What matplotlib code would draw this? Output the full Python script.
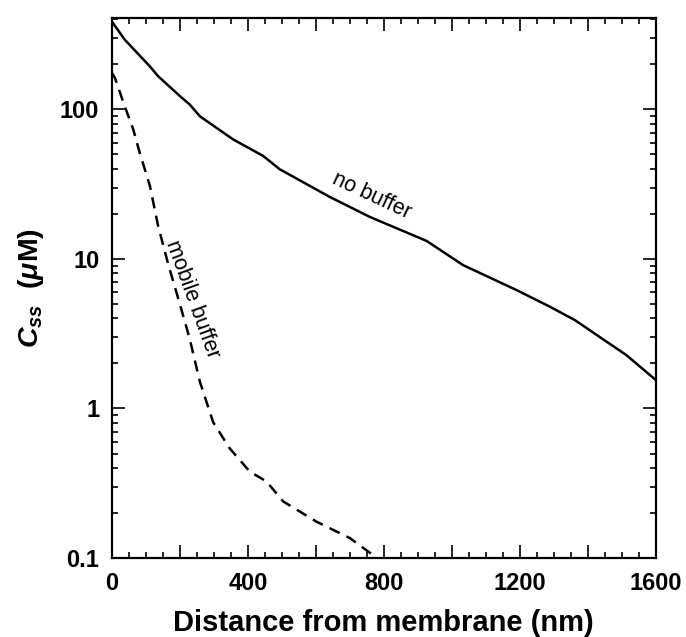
import matplotlib
matplotlib.use("Agg")
import matplotlib.pyplot as plt
from matplotlib.ticker import MultipleLocator, LogLocator, NullFormatter, FixedLocator, FixedFormatter

plt.rcParams['font.family'] = ['Liberation Sans', 'DejaVu Sans']
plt.rcParams['mathtext.fontset'] = 'custom'
plt.rcParams['mathtext.rm'] = 'Liberation Sans:bold'
plt.rcParams['mathtext.it'] = 'Liberation Sans:italic:bold'
plt.rcParams['mathtext.bf'] = 'Liberation Sans:bold'

# Data (distance in nm, concentration in uM)
no_buffer_x = [0, 38, 112, 136, 200, 229, 259, 357, 445, 494, 641, 759, 926, 1033, 1190, 1288, 1362, 1514, 1600]
no_buffer_y = [388, 293, 194, 167, 123, 108, 90, 63, 48.9, 39.8, 26.0, 19.1, 13.2, 9.1, 6.2, 4.8, 3.9, 2.27, 1.55]

mobile_x = [0, 9, 38, 63, 82, 112, 136, 166, 200, 229, 259, 298, 347, 406, 455, 504, 602, 700, 780]
mobile_y = [176, 163, 105, 73.6, 51.4, 30.8, 16.7, 9.2, 5.0, 2.93, 1.51, 0.81, 0.54, 0.378, 0.325, 0.239, 0.175, 0.136, 0.1]

x_ticks = [0, 400, 800, 1200, 1600]
x_ticklabels = ['0', '400', '800', '1200', '1600']
y_ticks = [0.1, 1, 10, 100]
y_ticklabels = ['0.1', '1', '10', '100']

fig = plt.figure(figsize=(6.86, 6.37), dpi=100)
ax = fig.add_axes([0.163, 0.124, 0.793, 0.848])

ax.plot(no_buffer_x, no_buffer_y, color='black', lw=1.8, solid_joinstyle='round')
ax.plot(mobile_x, mobile_y, color='black', lw=1.8, linestyle=(0, (4.5, 3)))

ax.set_yscale('log')
ax.set_xlim(0, 1600)
ax.set_ylim(0.1, 410)

major_x = list(range(0, 1601, 200))
ax.set_xticks(major_x)
ax.set_xticklabels([x_ticklabels[x_ticks.index(t)] if t in x_ticks else '' for t in major_x])
ax.xaxis.set_minor_locator(MultipleLocator(50))
ax.yaxis.set_major_locator(FixedLocator(y_ticks))
ax.yaxis.set_major_formatter(FixedFormatter(y_ticklabels))
ax.yaxis.set_minor_locator(LogLocator(base=10, subs=range(2, 10)))
ax.yaxis.set_minor_formatter(NullFormatter())

ax.tick_params(which='both', direction='in', top=True, right=True, width=1.2)
ax.tick_params(which='major', length=9.5)
ax.tick_params(which='minor', length=4.5)
ax.tick_params(axis='x', which='major', pad=10)
ax.tick_params(axis='y', which='major', pad=9)
for lbl in ax.get_xticklabels() + ax.get_yticklabels():
    lbl.set_fontsize(17)
    lbl.set_fontweight('bold')

for s in ax.spines.values():
    s.set_linewidth(1.6)

ax.set_xlabel('Distance from membrane (nm)', fontsize=21, fontweight='bold', labelpad=10)
ax.set_ylabel(r'$C_{ss}$  ($\mu$M)', fontsize=20.5, fontweight='bold', labelpad=10)

ax.text(765, 26.5, 'no buffer', rotation=-25, fontsize=15.5, ha='center', va='center')
ax.text(236, 5.4, 'mobile buffer', rotation=-70, fontsize=15.5, ha='center', va='center')

fig.savefig('out.png', dpi=100)
